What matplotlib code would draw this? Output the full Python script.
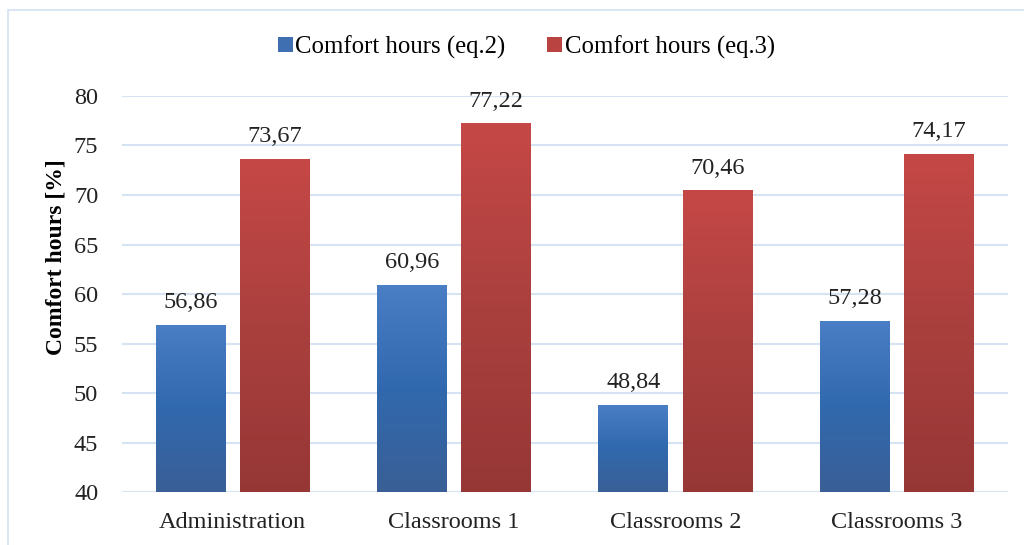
import numpy as np
import matplotlib
matplotlib.use('Agg')
import matplotlib.pyplot as plt
from matplotlib.patches import Rectangle
from matplotlib.colors import LinearSegmentedColormap

plt.rcParams['font.family'] = ['Liberation Serif', 'DejaVu Serif']

categories = ['Administration', 'Classrooms 1', 'Classrooms 2', 'Classrooms 3']
eq2 = [56.86, 60.96, 48.84, 57.28]
eq3 = [73.67, 77.22, 70.46, 74.17]
series_names = ['Comfort hours (eq.2)', 'Comfort hours (eq.3)']

fig = plt.figure(figsize=(10.24, 5.45), dpi=100)
ax = fig.add_axes([0.119, 0.097, 0.865, 0.727])

# light frame around the chart area
fig.patches.append(Rectangle((0.008, -0.1), 1.2, 1.082, transform=fig.transFigure,
                             fill=False, edgecolor='#D4E2F2', linewidth=1.2))

x = np.arange(len(categories))
w = 0.316
off = 0.19
ymin = 40

cmap_blue = LinearSegmentedColormap.from_list('b', ['#3A5F96', '#3169AE', '#4A7EC5'])
cmap_red = LinearSegmentedColormap.from_list('r', ['#963736', '#AA403E', '#C54846'])
grad = np.linspace(0, 1, 256).reshape(-1, 1)

def grad_bars(xs, vals, cmap, legcolor, label):
    bars = ax.bar(xs, np.array(vals) - ymin, w, bottom=ymin, color=legcolor,
                  label=label, zorder=2)
    for b in bars:
        x0, y0 = b.get_x(), b.get_y()
        x1, y1 = x0 + b.get_width(), y0 + b.get_height()
        im = ax.imshow(grad, cmap=cmap, extent=[x0, x1, y0, y1], origin='lower',
                       aspect='auto', zorder=3)
        im.set_clip_path(b)
    for xi, v in zip(xs, vals):
        ax.text(xi, v + 1.2, f'{v:.2f}'.replace('.', ','), ha='center', va='bottom',
                fontsize=17.5, color='#222222')

grad_bars(x - off, eq2, cmap_blue, '#3F6FB0', series_names[0])
grad_bars(x + off, eq3, cmap_red, '#B84340', series_names[1])

ax.set_xlim(-0.5, len(categories) - 0.5)
ax.set_ylim(40, 80)
ax.set_yticks(range(40, 81, 5))
ax.set_xticks(x)
ax.set_xticklabels(categories)
ax.tick_params(axis='both', length=0, labelsize=17.5, colors='#222222')
ax.tick_params(axis='y', pad=17)
ax.tick_params(axis='x', pad=14)
ax.yaxis.grid(True, color='#D6E3F3', linewidth=1.5, zorder=0)
ax.set_axisbelow(True)
for s in ax.spines.values():
    s.set_visible(False)
ax.set_ylabel('Comfort hours [%]', fontsize=17, fontweight='bold')
ax.yaxis.set_label_coords(-0.063, 0.593)

leg = fig.legend(loc='center', bbox_to_anchor=(0.514, 0.914), ncol=2, frameon=False,
                 fontsize=17.8, handlelength=0.6, handleheight=0.6, handletextpad=0.1,
                 columnspacing=1.7)

fig.savefig('out.png', dpi=100)
